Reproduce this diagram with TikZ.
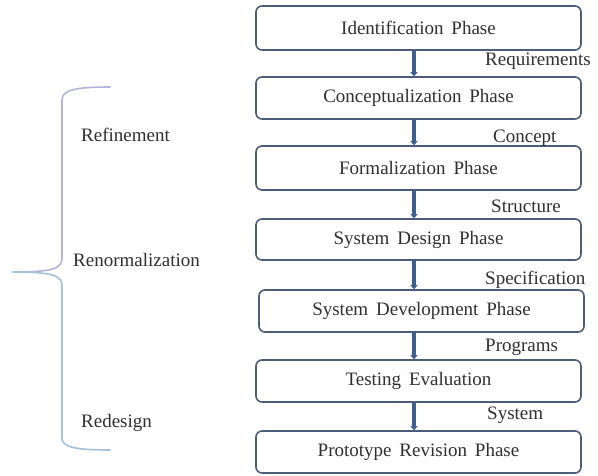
\documentclass[tikz,border=0pt]{standalone}
\usepackage{fontspec}
\setmainfont{Liberation Serif}[Scale=1.0]
\usetikzlibrary{arrows.meta}
\definecolor{boxline}{HTML}{4B5D78}
\definecolor{flow}{HTML}{3C5F94}
\definecolor{ink}{HTML}{303030}
\definecolor{braceup}{HTML}{B4B4DA}
\definecolor{bracelow}{HTML}{A6C2DA}
\tikzset{
  phase/.style={draw=boxline, line width=1.6pt, rounded corners=6pt, fill=white,
    minimum width=325pt, minimum height=42pt, inner sep=0pt,
    font=\rmfamily\fontsize{19}{21}\selectfont, text=ink},
  flowarrow/.style={draw=flow, line width=3.5pt, -{Triangle[width=7pt,length=4pt]}},
  flowlabel/.style={anchor=west, inner sep=0pt, font=\rmfamily\fontsize{19}{21}\selectfont, text=ink},
  sidelabel/.style={anchor=west, inner sep=0pt, font=\rmfamily\fontsize{19}{21}\selectfont, text=ink},
  bracepart/.style={line width=1.6pt, line cap=round}
}
\begin{document}
\begin{tikzpicture}[x=1pt, y=-1pt]
  \useasboundingbox (0,0) rectangle (598,475);
  \fill[white] (0,0) rectangle (598,475);

  % phases
  \node[phase, minimum height=44pt] (b1) at (418.5,28) {Identification\, Phase};
  \node[phase] (b2) at (418.5,98) {Conceptualization\, Phase};
  \node[phase, minimum height=44pt] (b3) at (418.5,168) {Formalization\, Phase};
  \node[phase, minimum height=41pt] (b4) at (418.5,239.5) {System\, Design\, Phase};
  \node[phase] (b5) at (421.5,311) {System\, Development\, Phase};
  \node[phase] (b6) at (418.5,381) {Testing\, Evaluation};
  \node[phase] (b7) at (418.5,452) {Prototype\, Revision\, Phase};

  % flow between phases
  \coordinate (ax) at (414,0);
  \draw[flowarrow] (b1.south -| ax) -- (b2.north -| ax);
  \draw[flowarrow] (b2.south -| ax) -- (b3.north -| ax);
  \draw[flowarrow] (b3.south -| ax) -- (b4.north -| ax);
  \draw[flowarrow] (b4.south -| ax) -- (b5.north -| ax);
  \draw[flowarrow] (b5.south -| ax) -- (b6.north -| ax);
  \draw[flowarrow] (b6.south -| ax) -- (b7.north -| ax);

  % products passed along
  \node[flowlabel] (l1) at (485,61) {Requirements};
  \node[flowlabel] (l2) at (493,138) {Concept};
  \node[flowlabel] (l3) at (491,206) {Structure};
  \node[flowlabel] (l4) at (485,280) {Specification};
  \node[flowlabel] (l5) at (485,347) {Programs};
  \node[flowlabel] (l6) at (487,415) {System};

  % brace and iteration labels
  \coordinate (bt) at (110,87);
  \coordinate (bm) at (13,272);
  \coordinate (bb) at (110,450);
  \draw[bracepart, braceup] (bt) .. controls (75,87) and (62,90) .. (62,100)
    -- (62,258) .. controls (62,268) and (55,272) .. (bm);
  \draw[bracepart, bracelow] (bm) .. controls (55,272) and (62,276) .. (62,286)
    -- (62,438) .. controls (62,447) and (75,450) .. (bb);

  \node[sidelabel] (r1) at (81,135) {Refinement};
  \node[sidelabel] (r2) at (73,260) {Renormalization};
  \node[sidelabel] (r3) at (81,423) {Redesign};
\end{tikzpicture}
\end{document}
